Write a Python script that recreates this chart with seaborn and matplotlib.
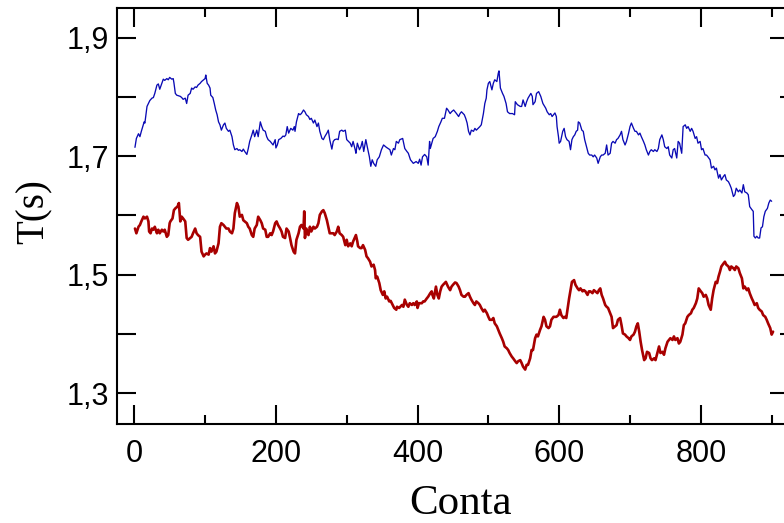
import matplotlib
matplotlib.use("Agg")
import matplotlib.pyplot as plt
from matplotlib.ticker import FixedLocator
import seaborn as sns

# Period T(s) versus count for the two measurement series
conta_azul = [
    1, 3, 6, 8, 10, 14, 15, 18, 20, 22, 25, 27, 29, 32, 34, 36, 39, 41, 43, 46,
    48, 50, 53, 55, 56, 58, 60, 65, 67, 69, 72, 74, 76, 79, 81, 83, 86, 88, 90, 93,
    95, 98, 100, 101, 103, 105, 107, 108, 111, 113, 115, 117, 119, 121, 123, 126, 128, 130, 133, 135,
    138, 140, 142, 145, 147, 149, 152, 154, 156, 159, 161, 163, 166, 168, 170, 173, 175, 178, 180, 182,
    185, 187, 189, 192, 194, 196, 199, 200, 202, 204, 207, 210, 212, 214, 216, 218, 221, 224, 226, 227,
    229, 232, 234, 236, 239, 241, 243, 246, 248, 250, 253, 255, 258, 260, 262, 265, 267, 269, 272, 274,
    276, 279, 281, 283, 286, 288, 290, 293, 295, 298,
    300, 305, 307, 309, 312, 313, 315, 318, 320, 322, 324, 327, 329, 332, 334, 336, 338, 341, 343, 346,
    349, 352, 356, 361, 363, 366, 368, 370, 373, 375, 379, 382, 385, 387, 390, 394, 398, 401, 403, 405,
    407, 410, 413, 415, 417, 418, 422, 425, 428, 430, 433, 435, 438, 441, 443, 446, 448, 451, 455, 458,
    460, 462, 466, 468, 470, 472, 474, 476, 479, 481, 483, 488, 490, 493, 495, 497, 498, 500, 502, 505,
    507, 509, 512, 514, 515, 517, 520, 522, 525, 527, 530, 534, 537, 538, 541, 545, 547, 549, 552, 554,
    556, 560, 562, 563, 566, 568, 571, 574, 577, 578, 581, 583, 586, 588, 590,
    592, 594, 596, 597, 599, 600, 602, 605, 607, 609, 611, 614, 616, 618, 620, 622, 624, 626, 627, 629,
    632, 634, 636, 639, 641, 643, 646, 648, 650, 653, 655, 658, 660, 662, 665, 667, 669, 672, 674, 676,
    679, 681, 683, 686, 688, 690, 693, 695, 698, 700, 702, 705, 707, 709, 712, 714, 716, 719, 721, 723,
    726, 728, 730, 733, 735, 738, 740, 742, 745, 747, 749, 752, 754, 756, 759, 761, 763, 766, 768, 770,
    773, 775, 778, 780, 782, 785, 787, 789, 792, 794, 796, 799, 801, 803, 806, 808, 810, 813, 815, 818,
    820, 822, 825, 827, 829, 832, 834, 836, 839, 841, 843, 846, 848, 850, 853, 855, 858, 860, 862, 865,
    867, 869, 872, 874, 875, 877, 879, 881, 883, 885, 887, 889, 891, 894, 896, 898, 900,
]
t_azul = [
    1.715, 1.730, 1.738, 1.733, 1.742, 1.758, 1.756, 1.784, 1.789, 1.794, 1.798, 1.799, 1.806, 1.820, 1.822, 1.813, 1.823, 1.830, 1.828, 1.831,
    1.829, 1.833, 1.830, 1.831, 1.824, 1.806, 1.803, 1.801, 1.799, 1.796, 1.798, 1.789, 1.803, 1.806, 1.815, 1.813, 1.817, 1.816, 1.820, 1.823,
    1.826, 1.829, 1.831, 1.837, 1.823, 1.820, 1.815, 1.803, 1.799, 1.789, 1.778, 1.770, 1.758, 1.753, 1.744, 1.753, 1.756, 1.747, 1.742, 1.744,
    1.733, 1.719, 1.711, 1.713, 1.710, 1.711, 1.708, 1.712, 1.708, 1.703, 1.713, 1.725, 1.736, 1.744, 1.733, 1.744, 1.733, 1.758, 1.750, 1.744,
    1.742, 1.733, 1.728, 1.725, 1.722, 1.719, 1.728, 1.714, 1.719, 1.728, 1.730, 1.734, 1.733, 1.736, 1.750, 1.739, 1.747, 1.744, 1.750, 1.742,
    1.758, 1.772, 1.770, 1.772, 1.778, 1.775, 1.770, 1.767, 1.762, 1.764, 1.756, 1.761, 1.750, 1.756, 1.742, 1.730, 1.728, 1.733, 1.739, 1.744,
    1.728, 1.712, 1.725, 1.728, 1.729, 1.728, 1.742, 1.744, 1.742, 1.744,
    1.728, 1.722, 1.716, 1.725, 1.711, 1.705, 1.722, 1.711, 1.716, 1.725, 1.708, 1.728, 1.716, 1.699, 1.683, 1.694, 1.688, 1.683, 1.694, 1.699,
    1.711, 1.719, 1.715, 1.711, 1.702, 1.713, 1.711, 1.725, 1.722, 1.728, 1.730, 1.713, 1.708, 1.705, 1.694, 1.688, 1.691, 1.688, 1.695, 1.685,
    1.699, 1.703, 1.699, 1.685, 1.725, 1.713, 1.730, 1.733, 1.742, 1.750, 1.758, 1.764, 1.764, 1.781, 1.778, 1.772, 1.775, 1.778, 1.772, 1.767,
    1.772, 1.775, 1.770, 1.764, 1.756, 1.742, 1.736, 1.744, 1.742, 1.747, 1.744, 1.750, 1.753, 1.772, 1.789, 1.798, 1.812, 1.823, 1.826, 1.812,
    1.823, 1.829, 1.826, 1.840, 1.844, 1.815, 1.806, 1.801, 1.789, 1.775, 1.772, 1.772, 1.770, 1.792, 1.787, 1.784, 1.784, 1.795, 1.784, 1.792,
    1.798, 1.806, 1.801, 1.787, 1.792, 1.806, 1.809, 1.801, 1.789, 1.787, 1.781, 1.775, 1.770, 1.772, 1.767,
    1.770, 1.773, 1.767, 1.750, 1.733, 1.722, 1.725, 1.742, 1.747, 1.733, 1.728, 1.725, 1.711, 1.728, 1.733, 1.736, 1.742, 1.744, 1.758, 1.756,
    1.744, 1.742, 1.728, 1.714, 1.705, 1.702, 1.702, 1.699, 1.702, 1.697, 1.688, 1.699, 1.702, 1.702, 1.705, 1.719, 1.702, 1.705, 1.722, 1.725,
    1.722, 1.728, 1.730, 1.736, 1.742, 1.728, 1.719, 1.725, 1.739, 1.750, 1.756, 1.747, 1.742, 1.742, 1.736, 1.739, 1.733, 1.725, 1.719, 1.711,
    1.702, 1.708, 1.711, 1.708, 1.711, 1.708, 1.713, 1.728, 1.736, 1.728, 1.716, 1.713, 1.716, 1.702, 1.697, 1.711, 1.713, 1.697, 1.725, 1.722,
    1.705, 1.750, 1.753, 1.747, 1.750, 1.742, 1.747, 1.742, 1.730, 1.733, 1.722, 1.725, 1.711, 1.713, 1.702, 1.702, 1.699, 1.694, 1.680, 1.683,
    1.677, 1.680, 1.663, 1.669, 1.660, 1.666, 1.669, 1.660, 1.657, 1.652, 1.646, 1.632, 1.635, 1.646, 1.640, 1.643, 1.638, 1.652, 1.640, 1.638,
    1.635, 1.615, 1.610, 1.607, 1.565, 1.562, 1.565, 1.562, 1.562, 1.579, 1.581, 1.598, 1.607, 1.612, 1.621, 1.626, 1.624,
]

conta_vermelho = [
    1, 3, 6, 8, 10, 13, 15, 18, 20, 21, 23, 25, 27, 29, 32, 34, 36, 39, 41, 43,
    46, 48, 50, 51, 54, 56, 58, 61, 63, 65, 67, 69, 72, 74, 76, 79, 81, 83, 86, 88,
    90, 93, 95, 98, 100, 102, 105, 107, 109, 112, 114, 116, 119, 121, 123, 126, 128, 130, 133, 135,
    138, 140, 142, 145, 147, 149, 152, 154, 156, 159, 161, 163, 166, 168, 170, 173, 175, 178, 180, 182,
    185, 187, 189, 192, 194, 196, 199, 201, 203, 206, 208, 210, 213, 215, 218, 220, 222, 225, 227, 229,
    232, 234, 236, 239, 240, 241, 243, 246, 248, 250, 253, 255, 258, 260, 262, 265, 267, 269, 272, 274,
    276, 279, 281, 283, 286, 288, 290, 293, 295, 298,
    300, 302, 305, 307, 309, 312, 313, 315, 316, 319, 321, 323, 326, 328, 330, 333, 335, 338, 340, 341,
    343, 346, 348, 351, 353, 355, 357, 360, 362, 365, 367, 370, 371, 374, 378, 380, 382, 385, 387, 389,
    392, 394, 396, 399, 400, 402, 406, 408, 410, 413, 415, 418, 420, 421, 423, 426, 428, 430, 432, 434,
    436, 440, 443, 446, 448, 450, 453, 455, 458, 460, 462, 465, 467, 469, 472, 474, 476, 479, 481, 483,
    486, 488, 490, 493, 495, 498, 500, 502, 505, 507, 509, 512, 514, 516, 519, 521, 523, 526, 528, 530,
    533, 535, 538, 540, 542, 545, 547, 549, 552, 554, 556, 559, 561, 563, 566, 568, 570, 573, 575, 578,
    580, 582, 585, 587, 589, 592,
    594, 596, 599, 601, 603, 606, 608, 610, 612, 614, 616, 618, 621, 623, 626, 628, 630, 633, 635, 637,
    640, 642, 644, 647, 649, 651, 654, 656, 658, 660, 662, 665, 667, 669, 672, 674, 676, 679, 681, 683,
    686, 688, 690, 693, 695, 698, 700, 702, 705, 707, 709, 711, 713, 715, 717, 720, 722, 724, 727, 729,
    731, 734, 736, 738, 741, 743, 746, 748, 750, 753, 755, 757, 760, 762, 764, 767, 769, 771, 774, 776,
    778, 781, 783, 786, 788, 790, 793, 795, 797, 800, 802, 804, 807, 809, 811, 814, 816, 818, 821, 823,
    825, 827, 829, 832, 834, 836, 839, 841, 843, 846, 848, 850, 853, 855, 858, 860, 862, 865, 867, 869,
    872, 874, 876, 879, 881, 883, 886, 888, 891, 893, 895, 898, 900, 902,
]
t_vermelho = [
    1.578, 1.570, 1.581, 1.584, 1.590, 1.598, 1.595, 1.598, 1.590, 1.573, 1.570, 1.578, 1.576, 1.581, 1.570, 1.576, 1.570, 1.576, 1.573, 1.576,
    1.564, 1.567, 1.587, 1.590, 1.595, 1.609, 1.612, 1.615, 1.621, 1.590, 1.598, 1.595, 1.590, 1.562, 1.559, 1.562, 1.564, 1.570, 1.578, 1.570,
    1.567, 1.564, 1.539, 1.531, 1.534, 1.536, 1.534, 1.545, 1.539, 1.548, 1.536, 1.539, 1.553, 1.581, 1.587, 1.584, 1.581, 1.578, 1.578, 1.573,
    1.570, 1.578, 1.604, 1.621, 1.615, 1.598, 1.601, 1.592, 1.590, 1.587, 1.581, 1.578, 1.567, 1.564, 1.578, 1.584, 1.598, 1.592, 1.587, 1.578,
    1.576, 1.564, 1.564, 1.570, 1.567, 1.573, 1.587, 1.590, 1.584, 1.578, 1.573, 1.564, 1.562, 1.578, 1.573, 1.562, 1.550, 1.539, 1.536, 1.559,
    1.570, 1.581, 1.584, 1.578, 1.607, 1.562, 1.578, 1.567, 1.581, 1.573, 1.581, 1.578, 1.581, 1.587, 1.601, 1.607, 1.609, 1.604, 1.592, 1.581,
    1.570, 1.570, 1.570, 1.567, 1.573, 1.581, 1.570, 1.567, 1.564, 1.550,
    1.559, 1.548, 1.553, 1.548, 1.556, 1.564, 1.567, 1.556, 1.548, 1.545, 1.545, 1.550, 1.542, 1.531, 1.528, 1.522, 1.514, 1.517, 1.508, 1.494,
    1.497, 1.486, 1.474, 1.466, 1.472, 1.460, 1.463, 1.455, 1.456, 1.449, 1.444, 1.441, 1.446, 1.444, 1.449, 1.446, 1.458, 1.449, 1.446, 1.452,
    1.449, 1.452, 1.449, 1.455, 1.444, 1.452, 1.452, 1.455, 1.455, 1.460, 1.463, 1.469, 1.472, 1.466, 1.460, 1.480, 1.466, 1.460, 1.472, 1.480,
    1.483, 1.488, 1.480, 1.474, 1.480, 1.483, 1.487, 1.486, 1.480, 1.474, 1.466, 1.463, 1.463, 1.466, 1.469, 1.463, 1.458, 1.452, 1.449, 1.455,
    1.452, 1.449, 1.444, 1.438, 1.441, 1.435, 1.429, 1.424, 1.424, 1.427, 1.418, 1.413, 1.407, 1.401, 1.393, 1.387, 1.379, 1.376, 1.373, 1.368,
    1.362, 1.359, 1.354, 1.351, 1.354, 1.356, 1.351, 1.345, 1.340, 1.348, 1.348, 1.359, 1.373, 1.373, 1.393, 1.399, 1.396, 1.407, 1.413, 1.429,
    1.424, 1.413, 1.410, 1.413, 1.424, 1.429,
    1.429, 1.429, 1.432, 1.441, 1.432, 1.427, 1.429, 1.427, 1.444, 1.460, 1.474, 1.488, 1.491, 1.483, 1.477, 1.474, 1.477, 1.472, 1.474, 1.472,
    1.466, 1.472, 1.472, 1.469, 1.474, 1.472, 1.469, 1.474, 1.477, 1.466, 1.460, 1.449, 1.446, 1.444, 1.435, 1.429, 1.410, 1.413, 1.415, 1.424,
    1.427, 1.415, 1.401, 1.399, 1.396, 1.393, 1.390, 1.396, 1.399, 1.404, 1.413, 1.418, 1.404, 1.387, 1.373, 1.356, 1.359, 1.370, 1.368, 1.359,
    1.356, 1.359, 1.356, 1.365, 1.379, 1.368, 1.370, 1.365, 1.376, 1.387, 1.390, 1.393, 1.390, 1.396, 1.390, 1.393, 1.384, 1.387, 1.399, 1.415,
    1.418, 1.429, 1.432, 1.435, 1.441, 1.444, 1.452, 1.460, 1.477, 1.472, 1.469, 1.463, 1.466, 1.460, 1.449, 1.441, 1.460, 1.474, 1.488, 1.486,
    1.497, 1.505, 1.514, 1.519, 1.522, 1.517, 1.514, 1.508, 1.514, 1.511, 1.508, 1.514, 1.511, 1.503, 1.494, 1.477, 1.480, 1.474, 1.477, 1.469,
    1.460, 1.455, 1.449, 1.452, 1.444, 1.441, 1.438, 1.432, 1.429, 1.424, 1.418, 1.410, 1.399, 1.404,
]

x_ticks = [0, 200, 400, 600, 800]
x_tick_labels = ["0", "200", "400", "600", "800"]
x_minor_ticks = [100, 300, 500, 700, 900]
y_ticks = [1.3, 1.4, 1.5, 1.6, 1.7, 1.8, 1.9]
y_tick_labels = ["1,3", "", "1,5", "", "1,7", "", "1,9"]
y_right_major = [1.3, 1.5, 1.7, 1.9]
y_right_minor = [1.4, 1.6, 1.8]

sns.set_style("ticks")
plt.rcParams["font.family"] = ["Liberation Sans", "DejaVu Sans"]
plt.rcParams["text.color"] = "black"
plt.rcParams["axes.labelcolor"] = "black"
plt.rcParams["xtick.color"] = "black"
plt.rcParams["ytick.color"] = "black"
serif = ["Liberation Serif", "DejaVu Serif"]

fig = plt.figure(figsize=(7.84, 5.23), dpi=100)
ax = fig.add_axes([0.1492, 0.1893, 0.857, 0.7954])

sns.lineplot(x=conta_azul, y=t_azul, ax=ax, color="#0A0AB4",
             linewidth=0.95, estimator=None, sort=False)
sns.lineplot(x=conta_vermelho, y=t_vermelho, ax=ax, color="#A80000",
             linewidth=1.9, estimator=None, sort=False)

ax.set_xlim(-24.4, 924.3)
ax.set_ylim(1.2482, 1.9501)

ax.set_xticks(x_ticks)
ax.set_xticklabels(x_tick_labels)
ax.xaxis.set_minor_locator(FixedLocator(x_minor_ticks))
ax.set_yticks(y_ticks)
ax.set_yticklabels(y_tick_labels)

ax.tick_params(axis="x", which="major", direction="in", length=14, width=1.5,
               top=True, bottom=True, labelsize=22, pad=11,
               color="black", labelcolor="black")
ax.tick_params(axis="x", which="minor", direction="in", length=6.5, width=1.5,
               top=True, bottom=True, color="black")
ax.tick_params(axis="y", which="major", direction="in", length=14, width=1.5,
               left=True, right=False, labelsize=22, pad=6,
               color="black", labelcolor="black")

for sp in ax.spines.values():
    sp.set_linewidth(1.5)
    sp.set_color("black")
    sp.set_visible(True)

# right-hand axis carries long ticks at labelled values and short ones between
sec = ax.secondary_yaxis("right")
sec.set_yticks(y_right_major)
sec.set_yticklabels([])
sec.yaxis.set_minor_locator(FixedLocator(y_right_minor))
sec.tick_params(which="major", direction="in", length=14, width=1.5, color="black")
sec.tick_params(which="minor", direction="in", length=6.5, width=1.5, color="black")
sec.spines["right"].set_linewidth(1.5)
sec.spines["right"].set_color("black")

ax.set_xlabel("Conta", fontsize=31, family=serif, color="black")
ax.xaxis.set_label_coords(0.512, -0.145)
ax.set_ylabel("T(s)", fontsize=28, family=serif, color="black")
ax.yaxis.set_label_coords(-0.095, 0.51)

fig.savefig("out.png", dpi=100)
